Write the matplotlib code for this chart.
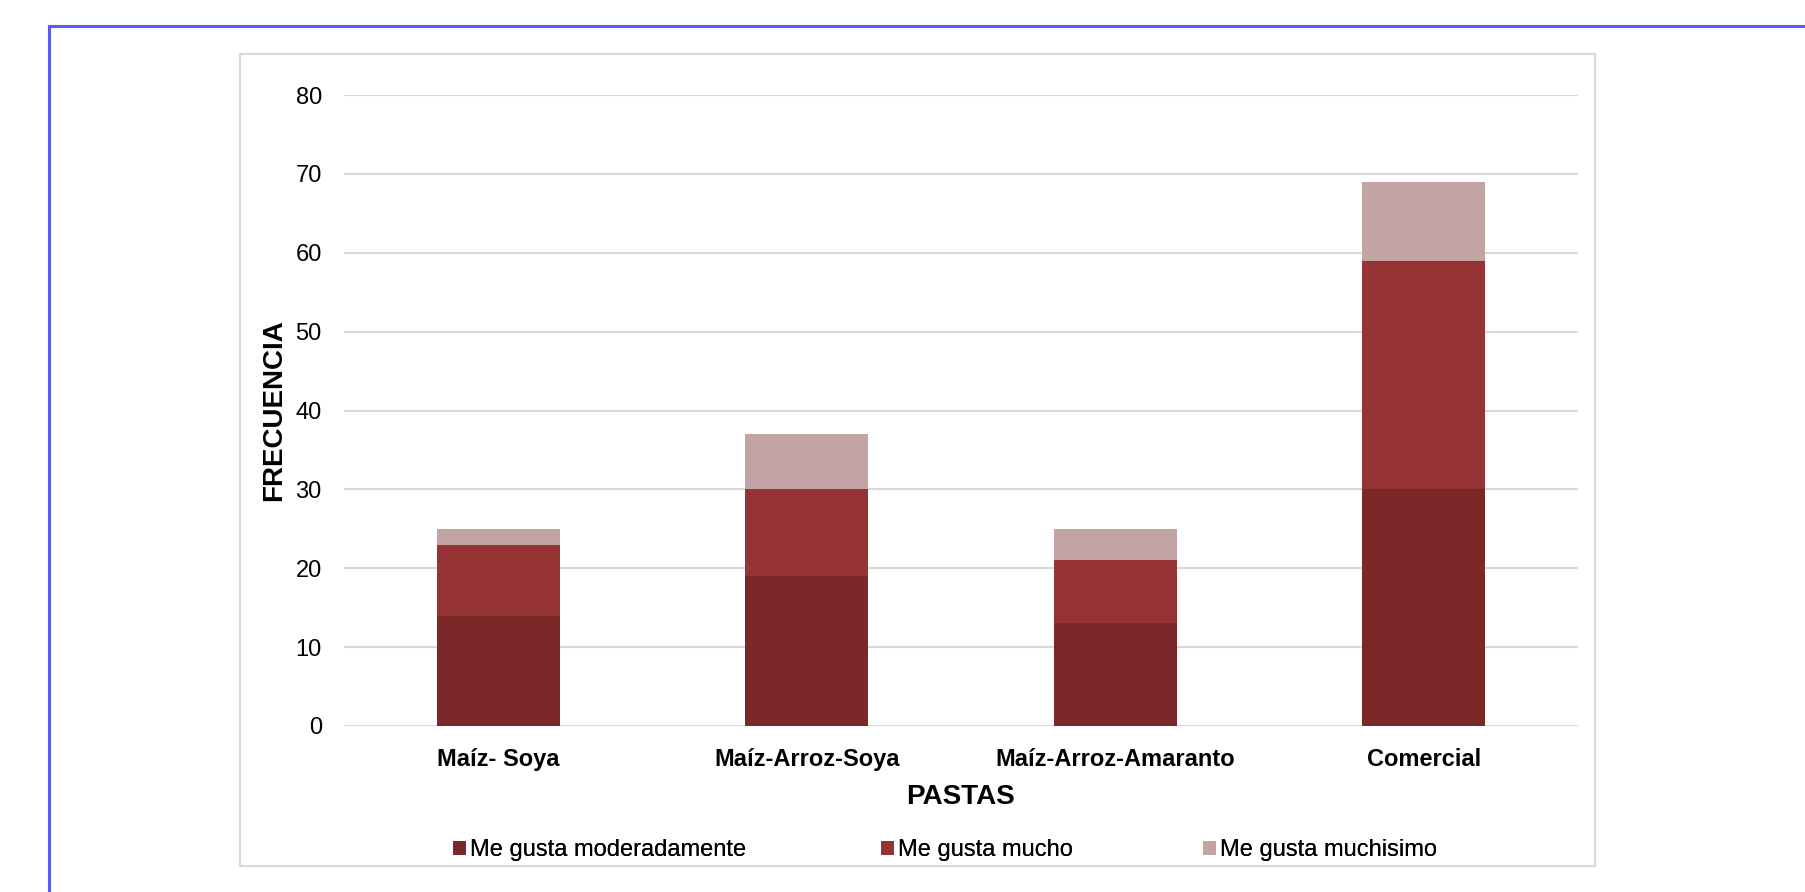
import numpy as np
import matplotlib.pyplot as plt
from matplotlib.patches import Rectangle
from matplotlib.lines import Line2D

plt.rcParams['font.family'] = ['Liberation Sans', 'DejaVu Sans']

# dati
pastas = ['Maíz- Soya', 'Maíz-Arroz-Soya', 'Maíz-Arroz-Amaranto', 'Comercial']
moderadamente = [14, 19, 13, 30]
mucho = [9, 11, 8, 29]
muchisimo = [2, 7, 4, 10]
serie_nomi = ['Me gusta moderadamente', 'Me gusta mucho', 'Me gusta muchisimo']
colori = ['#7B2829', '#953335', '#C2A4A4']
yticks = [0, 10, 20, 30, 40, 50, 60, 70, 80]

W, H = 1806, 892
fig = plt.figure(figsize=(W / 100, H / 100), dpi=100)

# cornice blu esterna (solo lati sinistro e superiore visibili)
fig.add_artist(Line2D([49 / W, 49 / W], [0, 1 - 26 / H], color='#5B5BF5', lw=2.2,
                      transform=fig.transFigure))
fig.add_artist(Line2D([49 / W, 1], [1 - 26 / H, 1 - 26 / H], color='#5B5BF5', lw=2.2,
                      transform=fig.transFigure))
# cornice grigia del grafico
fig.add_artist(Rectangle((240 / W, 1 - 866 / H), (1595 - 240) / W, (866 - 54) / H,
                         fill=False, edgecolor='#D9D9D9', lw=1.5, transform=fig.transFigure))

ax = fig.add_axes([344 / W, 1 - 726 / H, (1578 - 344) / W, (726 - 95) / H])

x = np.arange(len(pastas))
bottom = np.zeros(len(pastas))
for vals, nome, col in zip([moderadamente, mucho, muchisimo], serie_nomi, colori):
    ax.bar(x, vals, width=0.4, bottom=bottom, color=col, label=nome, zorder=3)
    bottom += np.array(vals)

ax.set_xlim(-0.5, len(pastas) - 0.5)
ax.set_ylim(0, 80)
ax.set_yticks(yticks)
ax.set_xticks(x)
ax.set_xticklabels(pastas, fontsize=17, fontweight='bold')
ax.tick_params(axis='y', labelsize=17, length=0, pad=16)
ax.tick_params(axis='x', length=0, pad=16)
ax.grid(axis='y', color='#D9D9D9', lw=1.5, zorder=0)
for s in ax.spines.values():
    s.set_visible(False)

ax.set_xlabel('PASTAS', fontsize=20, fontweight='bold', labelpad=9)
ax.set_ylabel('FRECUENCIA', fontsize=20, fontweight='bold', labelpad=6)

# legenda: una voce per volta, come in Excel
handles, labels = ax.get_legend_handles_labels()
leg_x = [453, 881, 1203]
for h, l, lx in zip(handles, labels, leg_x):
    lg = fig.legend([h], [l], loc='center left', bbox_to_anchor=(lx / W, 1 - 850 / H),
                    frameon=False, fontsize=17, handlelength=0.55, handleheight=0.55,
                    handletextpad=0.15, borderpad=0, borderaxespad=0)
    fig.add_artist(lg)

fig.savefig('out.png', dpi=100)
